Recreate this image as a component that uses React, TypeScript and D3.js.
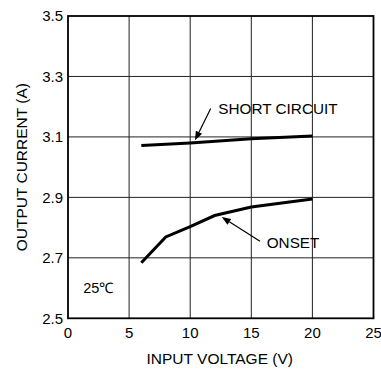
import React from "react";
import * as d3 from "d3";

const xTicks = [0, 5, 10, 15, 20, 25];
const yTicks = [2.5, 2.7, 2.9, 3.1, 3.3, 3.5];
const yTickLabels = ["2.5", "2.7", "2.9", "3.1", "3.3", "3.5"];
const shortCircuitV = [6, 10, 15, 20];
const shortCircuitI = [3.072, 3.08, 3.094, 3.103];
const onsetV = [6, 8, 10, 12, 15, 20];
const onsetI = [2.684, 2.769, 2.803, 2.84, 2.868, 2.895];

const W = 381, H = 372;
const left = 68, top = 16, right = 373.5, bottom = 318.3;
const FONT = "Liberation Sans, Arial, sans-serif";

export default function App() {
  const x = d3.scaleLinear().domain([0, 25]).range([left, right]);
  const y = d3.scaleLinear().domain([2.5, 3.5]).range([bottom, top]);
  const line = d3.line<[number, number]>().x(d => x(d[0])).y(d => y(d[1]));
  const sc = shortCircuitV.map((v, i) => [v, shortCircuitI[i]] as [number, number]);
  const on = onsetV.map((v, i) => [v, onsetI[i]] as [number, number]);

  const arrow = (x1: number, y1: number, x2: number, y2: number) => {
    const ax1 = x(x1), ay1 = y(y1), ax2 = x(x2), ay2 = y(y2);
    const ang = Math.atan2(ay2 - ay1, ax2 - ax1);
    const len = 9, wid = 3.5;
    const bx = ax2 - len * Math.cos(ang), by = ay2 - len * Math.sin(ang);
    const px = -Math.sin(ang) * wid, py = Math.cos(ang) * wid;
    return (
      <g>
        <line x1={ax1} y1={ay1} x2={bx} y2={by} stroke="#000" strokeWidth={1.2} />
        <polygon points={`${ax2},${ay2} ${bx + px},${by + py} ${bx - px},${by - py}`} fill="#000" />
      </g>
    );
  };

  return (
    <svg width={W} height={H} style={{ position: "absolute", left: 0, top: 0, background: "#fff" }} fontFamily={FONT}>
      <rect x={0} y={0} width={W} height={H} fill="#fff" />
      {xTicks.slice(1, -1).map(t => (
        <line key={"gx" + t} x1={x(t)} x2={x(t)} y1={top} y2={bottom} stroke="#222" strokeWidth={1} />
      ))}
      {yTicks.slice(1, -1).map(t => (
        <line key={"gy" + t} x1={left} x2={right} y1={y(t)} y2={y(t)} stroke="#222" strokeWidth={1} />
      ))}
      <rect x={left} y={top} width={right - left} height={bottom - top} fill="none" stroke="#000" strokeWidth={1.8} />
      {xTicks.map(t => (
        <text key={"tx" + t} x={x(t)} y={bottom + 20} textAnchor="middle" fontSize={15} fill="#000">{t}</text>
      ))}
      {yTicks.map((t, i) => (
        <text key={"ty" + t} x={left - 5} y={y(t)} dy="0.35em" textAnchor="end" fontSize={15} fill="#000">{yTickLabels[i]}</text>
      ))}
      <path d={line(sc) || ""} fill="none" stroke="#000" strokeWidth={3} />
      <path d={line(on) || ""} fill="none" stroke="#000" strokeWidth={3} />
      {arrow(11.68, 3.194, 10.39, 3.089)}
      {arrow(15.71, 2.755, 12.58, 2.835)}
      <text x={x(12.3)} y={y(3.176)} fontSize={15.3} fill="#000">SHORT CIRCUIT</text>
      <text x={x(16.26)} y={y(2.733)} fontSize={15.3} fill="#000">ONSET</text>
      <text x={x(1.25)} y={y(2.584)} fontSize={14.5} fill="#000">25℃</text>
      <text x={(left + right) / 2 - 1} y={363.5} textAnchor="middle" fontSize={15.5} fill="#000">INPUT VOLTAGE (V)</text>
      <text transform={`translate(27, ${(top + bottom) / 2}) rotate(-90)`} textAnchor="middle" fontSize={15.5} fill="#000">OUTPUT CURRENT (A)</text>
    </svg>
  );
}
